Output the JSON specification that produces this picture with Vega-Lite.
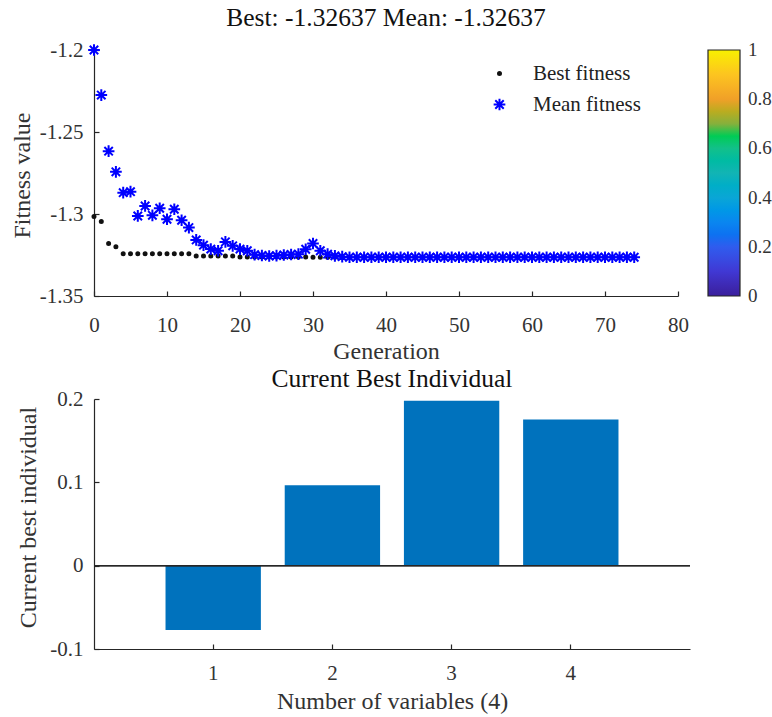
{
  "$schema": "https://vega.github.io/schema/vega-lite/v6.json",
  "background": "white",
  "padding": {"left": 9, "top": 5, "right": 0, "bottom": 4},
  "bounds": "flush",
  "spacing": 103,
  "config": {
    "font": "Liberation Serif",
    "view": {"stroke": null},
    "axis": {
      "labelFont": "Liberation Serif", "labelFontSize": 21, "labelColor": "#333333",
      "titleFont": "Liberation Serif", "titleFontSize": 24, "titleFontWeight": "normal", "titleColor": "#333333",
      "domainColor": "#262626", "domainWidth": 1.2, "tickColor": "#262626", "tickWidth": 1.2,
      "grid": false, "tickSize": -5, "labelFlush": false, "labelOverlap": false
    },
    "axisX": {"labelPadding": 23, "titleBaseline": "alphabetic", "titleY": 62},
    "axisY": {"labelPadding": 16, "titleBaseline": "alphabetic"},
    "title": {"font": "Liberation Serif", "fontSize": 25.5, "fontWeight": "normal", "color": "#111111"},
    "legend": {"labelFont": "Liberation Serif"}
  },
  "vconcat": [
    {
      "width": 584,
      "height": 246,
      "title": {"text": "Best: -1.32637 Mean: -1.32637", "offset": 8},
      "data": {"values": [
        {"gen":0,"series":"Best fitness","value":-1.3015},
        {"gen":1,"series":"Best fitness","value":-1.3046},
        {"gen":2,"series":"Best fitness","value":-1.318},
        {"gen":3,"series":"Best fitness","value":-1.32},
        {"gen":4,"series":"Best fitness","value":-1.3243},
        {"gen":5,"series":"Best fitness","value":-1.3243},
        {"gen":6,"series":"Best fitness","value":-1.3243},
        {"gen":7,"series":"Best fitness","value":-1.3243},
        {"gen":8,"series":"Best fitness","value":-1.3243},
        {"gen":9,"series":"Best fitness","value":-1.3243},
        {"gen":10,"series":"Best fitness","value":-1.3243},
        {"gen":11,"series":"Best fitness","value":-1.3243},
        {"gen":12,"series":"Best fitness","value":-1.3243},
        {"gen":13,"series":"Best fitness","value":-1.3243},
        {"gen":14,"series":"Best fitness","value":-1.3256},
        {"gen":15,"series":"Best fitness","value":-1.3256},
        {"gen":16,"series":"Best fitness","value":-1.3256},
        {"gen":17,"series":"Best fitness","value":-1.3256},
        {"gen":18,"series":"Best fitness","value":-1.3256},
        {"gen":19,"series":"Best fitness","value":-1.3256},
        {"gen":20,"series":"Best fitness","value":-1.3262},
        {"gen":21,"series":"Best fitness","value":-1.3262},
        {"gen":22,"series":"Best fitness","value":-1.3262},
        {"gen":23,"series":"Best fitness","value":-1.3262},
        {"gen":24,"series":"Best fitness","value":-1.3262},
        {"gen":25,"series":"Best fitness","value":-1.3262},
        {"gen":26,"series":"Best fitness","value":-1.3262},
        {"gen":27,"series":"Best fitness","value":-1.3262},
        {"gen":28,"series":"Best fitness","value":-1.3262},
        {"gen":29,"series":"Best fitness","value":-1.3262},
        {"gen":30,"series":"Best fitness","value":-1.32637},
        {"gen":31,"series":"Best fitness","value":-1.32637},
        {"gen":32,"series":"Best fitness","value":-1.32637},
        {"gen":33,"series":"Best fitness","value":-1.32637},
        {"gen":34,"series":"Best fitness","value":-1.32637},
        {"gen":35,"series":"Best fitness","value":-1.32637},
        {"gen":36,"series":"Best fitness","value":-1.32637},
        {"gen":37,"series":"Best fitness","value":-1.32637},
        {"gen":38,"series":"Best fitness","value":-1.32637},
        {"gen":39,"series":"Best fitness","value":-1.32637},
        {"gen":40,"series":"Best fitness","value":-1.32637},
        {"gen":41,"series":"Best fitness","value":-1.32637},
        {"gen":42,"series":"Best fitness","value":-1.32637},
        {"gen":43,"series":"Best fitness","value":-1.32637},
        {"gen":44,"series":"Best fitness","value":-1.32637},
        {"gen":45,"series":"Best fitness","value":-1.32637},
        {"gen":46,"series":"Best fitness","value":-1.32637},
        {"gen":47,"series":"Best fitness","value":-1.32637},
        {"gen":48,"series":"Best fitness","value":-1.32637},
        {"gen":49,"series":"Best fitness","value":-1.32637},
        {"gen":50,"series":"Best fitness","value":-1.32637},
        {"gen":51,"series":"Best fitness","value":-1.32637},
        {"gen":52,"series":"Best fitness","value":-1.32637},
        {"gen":53,"series":"Best fitness","value":-1.32637},
        {"gen":54,"series":"Best fitness","value":-1.32637},
        {"gen":55,"series":"Best fitness","value":-1.32637},
        {"gen":56,"series":"Best fitness","value":-1.32637},
        {"gen":57,"series":"Best fitness","value":-1.32637},
        {"gen":58,"series":"Best fitness","value":-1.32637},
        {"gen":59,"series":"Best fitness","value":-1.32637},
        {"gen":60,"series":"Best fitness","value":-1.32637},
        {"gen":61,"series":"Best fitness","value":-1.32637},
        {"gen":62,"series":"Best fitness","value":-1.32637},
        {"gen":63,"series":"Best fitness","value":-1.32637},
        {"gen":64,"series":"Best fitness","value":-1.32637},
        {"gen":65,"series":"Best fitness","value":-1.32637},
        {"gen":66,"series":"Best fitness","value":-1.32637},
        {"gen":67,"series":"Best fitness","value":-1.32637},
        {"gen":68,"series":"Best fitness","value":-1.32637},
        {"gen":69,"series":"Best fitness","value":-1.32637},
        {"gen":70,"series":"Best fitness","value":-1.32637},
        {"gen":71,"series":"Best fitness","value":-1.32637},
        {"gen":72,"series":"Best fitness","value":-1.32637},
        {"gen":73,"series":"Best fitness","value":-1.32637},
        {"gen":74,"series":"Best fitness","value":-1.32637},
        {"gen":0,"series":"Mean fitness","value":-1.2},
        {"gen":1,"series":"Mean fitness","value":-1.2275},
        {"gen":2,"series":"Mean fitness","value":-1.2617},
        {"gen":3,"series":"Mean fitness","value":-1.2743},
        {"gen":4,"series":"Mean fitness","value":-1.287},
        {"gen":5,"series":"Mean fitness","value":-1.2864},
        {"gen":6,"series":"Mean fitness","value":-1.3012},
        {"gen":7,"series":"Mean fitness","value":-1.2951},
        {"gen":8,"series":"Mean fitness","value":-1.3008},
        {"gen":9,"series":"Mean fitness","value":-1.2965},
        {"gen":10,"series":"Mean fitness","value":-1.3032},
        {"gen":11,"series":"Mean fitness","value":-1.2971},
        {"gen":12,"series":"Mean fitness","value":-1.3038},
        {"gen":13,"series":"Mean fitness","value":-1.3083},
        {"gen":14,"series":"Mean fitness","value":-1.3158},
        {"gen":15,"series":"Mean fitness","value":-1.319},
        {"gen":16,"series":"Mean fitness","value":-1.3214},
        {"gen":17,"series":"Mean fitness","value":-1.3224},
        {"gen":18,"series":"Mean fitness","value":-1.317},
        {"gen":19,"series":"Mean fitness","value":-1.3194},
        {"gen":20,"series":"Mean fitness","value":-1.3214},
        {"gen":21,"series":"Mean fitness","value":-1.3224},
        {"gen":22,"series":"Mean fitness","value":-1.3248},
        {"gen":23,"series":"Mean fitness","value":-1.3253},
        {"gen":24,"series":"Mean fitness","value":-1.3256},
        {"gen":25,"series":"Mean fitness","value":-1.3254},
        {"gen":26,"series":"Mean fitness","value":-1.325},
        {"gen":27,"series":"Mean fitness","value":-1.3247},
        {"gen":28,"series":"Mean fitness","value":-1.3245},
        {"gen":29,"series":"Mean fitness","value":-1.3215},
        {"gen":30,"series":"Mean fitness","value":-1.318},
        {"gen":31,"series":"Mean fitness","value":-1.3224},
        {"gen":32,"series":"Mean fitness","value":-1.3245},
        {"gen":33,"series":"Mean fitness","value":-1.3255},
        {"gen":34,"series":"Mean fitness","value":-1.326},
        {"gen":35,"series":"Mean fitness","value":-1.32637},
        {"gen":36,"series":"Mean fitness","value":-1.32637},
        {"gen":37,"series":"Mean fitness","value":-1.32637},
        {"gen":38,"series":"Mean fitness","value":-1.32637},
        {"gen":39,"series":"Mean fitness","value":-1.32637},
        {"gen":40,"series":"Mean fitness","value":-1.32637},
        {"gen":41,"series":"Mean fitness","value":-1.32637},
        {"gen":42,"series":"Mean fitness","value":-1.32637},
        {"gen":43,"series":"Mean fitness","value":-1.32637},
        {"gen":44,"series":"Mean fitness","value":-1.32637},
        {"gen":45,"series":"Mean fitness","value":-1.32637},
        {"gen":46,"series":"Mean fitness","value":-1.32637},
        {"gen":47,"series":"Mean fitness","value":-1.32637},
        {"gen":48,"series":"Mean fitness","value":-1.32637},
        {"gen":49,"series":"Mean fitness","value":-1.32637},
        {"gen":50,"series":"Mean fitness","value":-1.32637},
        {"gen":51,"series":"Mean fitness","value":-1.32637},
        {"gen":52,"series":"Mean fitness","value":-1.32637},
        {"gen":53,"series":"Mean fitness","value":-1.32637},
        {"gen":54,"series":"Mean fitness","value":-1.32637},
        {"gen":55,"series":"Mean fitness","value":-1.32637},
        {"gen":56,"series":"Mean fitness","value":-1.32637},
        {"gen":57,"series":"Mean fitness","value":-1.32637},
        {"gen":58,"series":"Mean fitness","value":-1.32637},
        {"gen":59,"series":"Mean fitness","value":-1.32637},
        {"gen":60,"series":"Mean fitness","value":-1.32637},
        {"gen":61,"series":"Mean fitness","value":-1.32637},
        {"gen":62,"series":"Mean fitness","value":-1.32637},
        {"gen":63,"series":"Mean fitness","value":-1.32637},
        {"gen":64,"series":"Mean fitness","value":-1.32637},
        {"gen":65,"series":"Mean fitness","value":-1.32637},
        {"gen":66,"series":"Mean fitness","value":-1.32637},
        {"gen":67,"series":"Mean fitness","value":-1.32637},
        {"gen":68,"series":"Mean fitness","value":-1.32637},
        {"gen":69,"series":"Mean fitness","value":-1.32637},
        {"gen":70,"series":"Mean fitness","value":-1.32637},
        {"gen":71,"series":"Mean fitness","value":-1.32637},
        {"gen":72,"series":"Mean fitness","value":-1.32637},
        {"gen":73,"series":"Mean fitness","value":-1.32637},
        {"gen":74,"series":"Mean fitness","value":-1.32637}
      ]},
      "layer": [
        {
          "mark": {"type": "point", "filled": false, "fill": "#111111", "strokeWidth": 2, "opacity": 1},
          "encoding": {
            "x": {"field": "gen", "type": "quantitative", "scale": {"domain": [0, 80], "nice": false},
                  "axis": {"values": [0,10,20,30,40,50,60,70,80], "title": "Generation"}},
            "y": {"field": "value", "type": "quantitative", "scale": {"domain": [-1.35, -1.2], "nice": false, "zero": false},
                  "axis": {"values": [-1.35,-1.3,-1.25,-1.2], "labelExpr": "replace(format(datum.value, '.3~g'), '\u2212', '-')",
                           "title": "Fitness value", "titleX": -65, "titleY": 125}},
            "color": {"field": "series", "type": "nominal",
                      "scale": {"domain": ["Best fitness", "Mean fitness"], "range": ["#111111", "#0000ff"]},
                      "legend": {"orient": "none", "legendX": 395, "legendY": 13, "title": null, "labelFontSize": 21, "labelColor": "#222222", "labelOffset": 23, "rowPadding": 9, "symbolStrokeWidth": 2, "symbolFillColor": "#111111"}},
            "shape": {"field": "series", "type": "nominal",
                      "scale": {"domain": ["Best fitness", "Mean fitness"], "range": ["circle", "M0,-1L0,1M-1,0L1,0M-0.72,-0.72L0.72,0.72M-0.72,0.72L0.72,-0.72"]},
                      "legend": {"orient": "none", "legendX": 395, "legendY": 13, "title": null, "labelFontSize": 21, "labelColor": "#222222", "labelOffset": 23, "rowPadding": 9, "symbolStrokeWidth": 2, "symbolFillColor": "#111111"}},
            "size": {"field": "series", "type": "nominal",
                     "scale": {"type": "ordinal", "domain": ["Best fitness", "Mean fitness"], "range": [9, 137]},
                     "legend": {"orient": "none", "legendX": 395, "legendY": 13, "title": null, "labelFontSize": 21, "labelColor": "#222222", "labelOffset": 23, "rowPadding": 9, "symbolStrokeWidth": 2, "symbolFillColor": "#111111"}}
          }
        },
        {
          "mark": {"type": "point", "opacity": 0},
          "encoding": {
            "x": {"field": "gen", "type": "quantitative"},
            "y": {"field": "value", "type": "quantitative"},
            "fill": {"datum": 0.5, "type": "quantitative",
                     "scale": {"domain": [0,0.1,0.2,0.3,0.4,0.5,0.6,0.65,0.7,0.8,0.9,1],
                               "range": ["#3a1f9c","#4038d4","#2f5cee","#0a86f0","#0aa6d6","#12b4b4","#12c08a","#00cc55","#86b03c","#f0a028","#fcc420","#f7f000"]},
                     "legend": {"orient": "none", "legendX": 614, "legendY": 0, "direction": "vertical", "title": null,
                                "gradientLength": 246, "gradientThickness": 32, "gradientStrokeColor": "#262626", "gradientStrokeWidth": 1.2,
                                "values": [0,0.2,0.4,0.6,0.8,1], "format": "~g", "labelFontSize": 19, "labelColor": "#333333", "labelOffset": 8,
                                "encode": {"labels": {"update": {"baseline": {"value": "middle"}}}}}}
          }
        }
      ]
    },
    {
      "width": 596,
      "height": 250,
      "title": {"text": "Current Best Individual", "offset": -4},
      "data": {"values": [
        {"var": 1, "val": -0.0771},
        {"var": 2, "val": 0.0965},
        {"var": 3, "val": 0.198},
        {"var": 4, "val": 0.1755}
      ]},
      "layer": [
        {
          "mark": {"type": "bar", "color": "#0072BD"},
          "encoding": {
            "x": {"field": "var", "type": "ordinal", "scale": {"paddingInner": 0.2, "paddingOuter": 0.6},
                  "axis": {"labelAngle": 0, "title": "Number of variables (4)", "labelPadding": 18, "titleY": 59}},
            "y": {"field": "val", "type": "quantitative", "scale": {"domain": [-0.1, 0.2], "nice": false},
                  "axis": {"values": [-0.1, 0, 0.1, 0.2], "labelExpr": "replace(format(datum.value, '~g'), '\u2212', '-')",
                           "title": "Current best individual", "titleX": -59, "titleY": 118}}
          }
        },
        {
          "mark": {"type": "rule", "color": "#262626", "strokeWidth": 1.2},
          "encoding": {"y": {"datum": 0}}
        },
        {
          "mark": {"type": "point", "opacity": 0},
          "encoding": {
            "x": {"field": "var", "type": "ordinal"},
            "y": {"field": "val", "type": "quantitative"},
            "fill": {"datum": 0.5, "type": "quantitative",
                     "scale": {"domain": [0,0.1,0.2,0.3,0.4,0.5,0.6,0.65,0.7,0.8,0.9,1],
                               "range": ["#3a1f9c","#4038d4","#2f5cee","#0a86f0","#0aa6d6","#12b4b4","#12c08a","#00cc55","#86b03c","#f0a028","#fcc420","#f7f000"]},
                     "legend": {"orient": "none", "legendX": 614, "legendY": 0, "direction": "vertical", "title": null,
                                "gradientLength": 250, "gradientThickness": 32, "gradientStrokeColor": "#262626", "gradientStrokeWidth": 1.2,
                                "values": [0,0.2,0.4,0.6,0.8,1], "format": "~g", "labelFontSize": 19, "labelColor": "#333333", "labelOffset": 8,
                                "encode": {"labels": {"update": {"baseline": {"value": "middle"}}}}}}
          }
        }
      ]
    }
  ]
}
